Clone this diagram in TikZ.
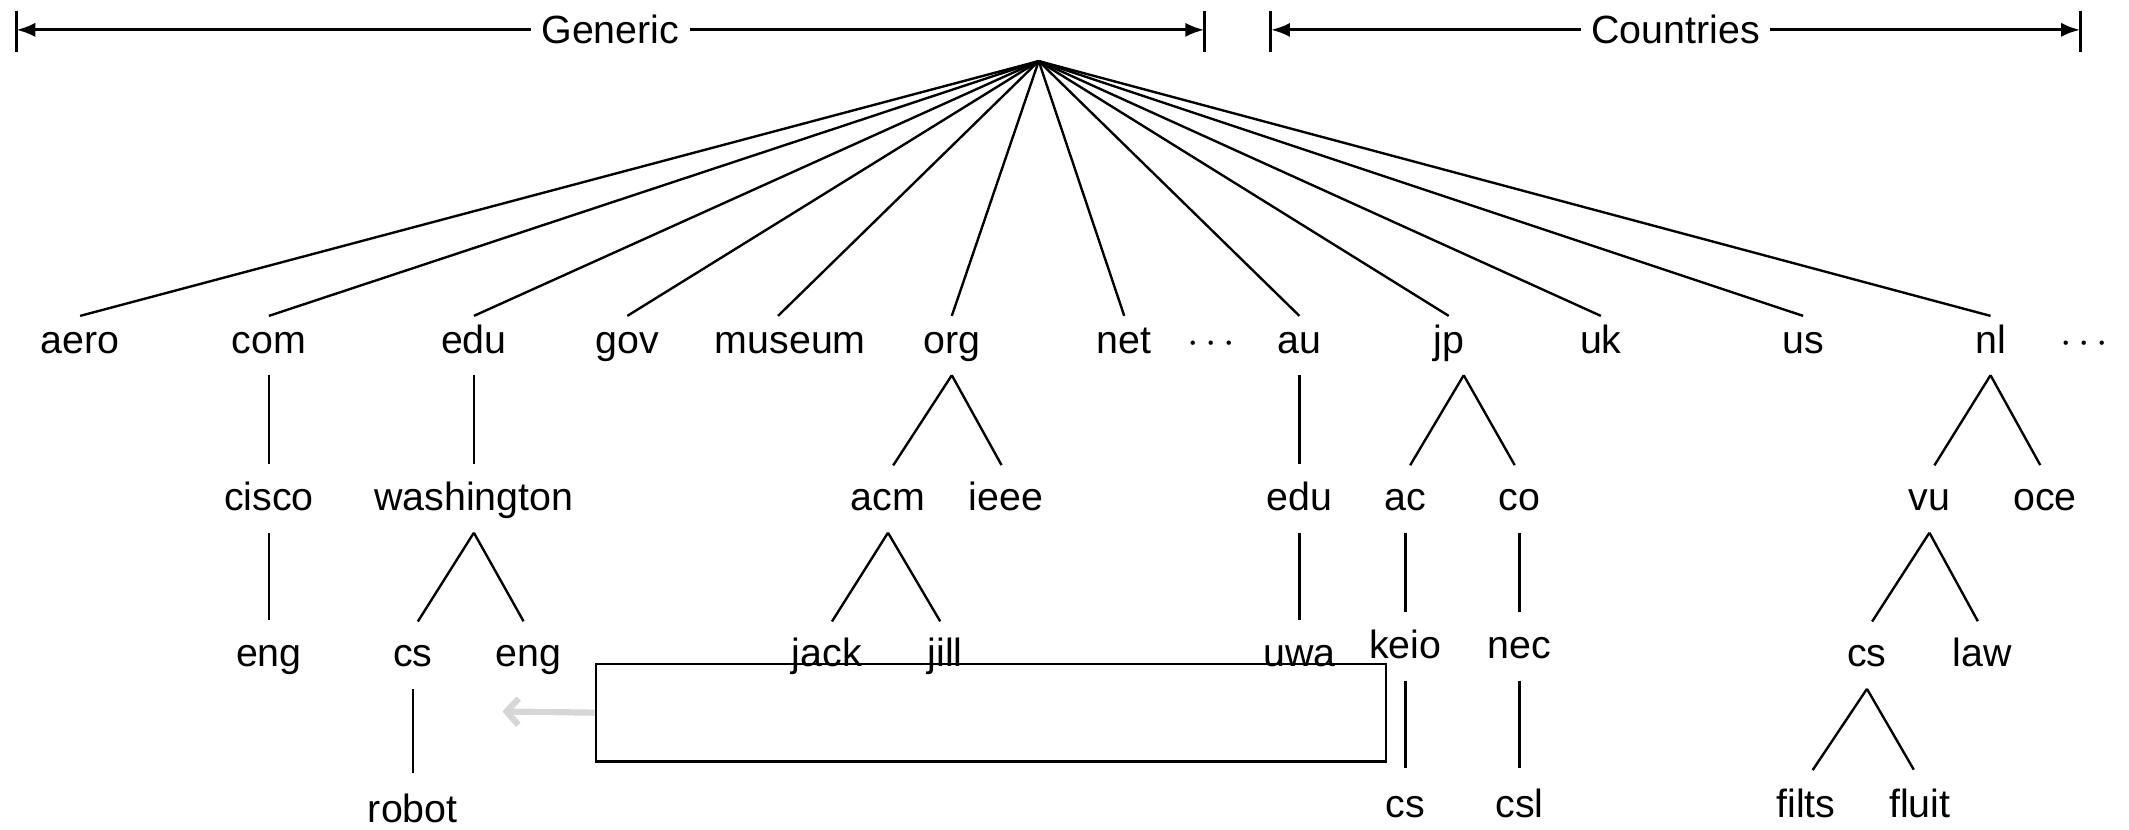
\documentclass[tikz,border=0pt]{standalone}
\usepackage{fontspec}
\setmainfont{Liberation Sans}
\usetikzlibrary{arrows.meta}
\definecolor{silverarrow}{RGB}{214, 214, 214}

\tikzset{
  host/.style     = {font=\fontsize{16.5}{19}\selectfont, inner sep=0pt,
                     text height=0.54cm, text depth=0.32cm, anchor=base},
  spoke/.style    = {line width=1pt},
  branch/.style   = {line width=1pt, shorten >=0.14cm},
  twig/.style     = {line width=1pt, shorten >=0.18cm},
  spanline/.style = {line width=1.3pt,
                     {Latex[length=8pt,width=6pt]}-{Latex[length=8pt,width=6pt]}},
  endtick/.style  = {line width=1.3pt},
  header/.style   = {font=\fontsize{16.5}{19}\selectfont, fill=white,
                     inner xsep=4.5pt, inner ysep=1pt},
}

\begin{document}
\begin{tikzpicture}[x=0.02cm, y=-0.02cm]
            \useasboundingbox (0,0) rectangle (1568,611);
            % Generic / Countries spans
            \coordinate (genL) at (  12, 22);
            \coordinate (genR) at ( 887, 22);
            \coordinate (ctyL) at ( 936, 22);
            \coordinate (ctyR) at (1532, 22);
            \draw[endtick]  (  12,  8) -- (  12, 38);
            \draw[endtick]  ( 887,  8) -- ( 887, 38);
            \draw[endtick]  ( 936,  8) -- ( 936, 38);
            \draw[endtick]  (1532,  8) -- (1532, 38);
            \draw[spanline] (genL) -- node[header] (generic)   {Generic}   (genR);
            \draw[spanline] (ctyL) -- node[header] (countries) {Countries} (ctyR);
            % Top-level domains
            \coordinate (root) at (765, 45);
            \node[host] (aero)   at (  59,260) {aero};
            \node[host] (com)    at ( 198,260) {com};
            \node[host] (edu)    at ( 349,260) {edu};
            \node[host] (gov)    at ( 462,260) {gov};
            \node[host] (museum) at ( 582,260) {museum};
            \node[host] (org)    at ( 701,260) {org};
            \node[host] (net)    at ( 828,260) {net};
            \node[host] (gdots)  at ( 892,260) {$\cdots$};
            \node[host] (au)     at ( 957,260) {au};
            \node[host] (jp)     at (1067,260) {jp};
            \node[host] (uk)     at (1179,260) {uk};
            \node[host] (us)     at (1328,260) {us};
            \node[host] (nl)     at (1466,260) {nl};
            \node[host] (cdots)  at (1535,260) {$\cdots$};
            \foreach \tld in {aero,com,edu,gov,org,net,au,jp,uk,us,nl}
                \draw[spoke] (root) -- (\tld.north);
            \draw[spoke] (root) -- ([xshift=-0.18cm]museum.north);
            % Second level
            \node[host] (cisco)      at ( 198,376) {cisco};
            \node[host] (washington) at ( 349,376) {washington};
            \node[host] (acm)        at ( 654,376) {acm};
            \node[host] (ieee)       at ( 741,376) {ieee};
            \node[host] (auedu)      at ( 957,376) {edu};
            \node[host] (ac)         at (1035,376) {ac};
            \node[host] (co)         at (1119,376) {co};
            \node[host] (vu)         at (1421,376) {vu};
            \node[host] (oce)        at (1506,376) {oce};
            \draw[branch] (com.south)  -- (cisco.north);
            \draw[branch] (edu.south)  -- (washington.north);
            \draw[branch] (org.south)  -- (acm.north);
            \draw[branch] (org.south)  -- (ieee.north);
            \draw[branch] (au.south)   -- (auedu.north);
            \draw[branch] ([xshift=0.22cm]jp.south) -- (ac.north);
            \draw[branch] ([xshift=0.22cm]jp.south) -- (co.north);
            \draw[branch] (nl.south)   -- (vu.north);
            \draw[branch] (nl.south)   -- (oce.north);
            % Third level
            \node[host] (comeng)  at ( 198,491) {eng};
            \node[host] (washcs)  at ( 304,491) {cs};
            \node[host] (washeng) at ( 389,491) {eng};
            \node[host] (jack)    at ( 609,491) {jack};
            \node[host] (jill)    at ( 696,491) {jill};
            \node[host] (uwa)     at ( 957,491) {uwa};
            \node[host] (keio)    at (1035,485) {keio};
            \node[host] (nec)     at (1119,485) {nec};
            \node[host] (vucs)    at (1375,491) {cs};
            \node[host] (law)     at (1460,491) {law};
            \draw[branch] (cisco.south)      -- (comeng.north);
            \draw[branch] (washington.south) -- (washcs.north);
            \draw[branch] (washington.south) -- (washeng.north);
            \draw[branch] (acm.south)        -- (jack.north);
            \draw[branch] (acm.south)        -- (jill.north);
            \draw[branch] (auedu.south)      -- (uwa.north);
            \draw[branch] (ac.south)         -- (keio.north);
            \draw[branch] (co.south)         -- (nec.north);
            \draw[branch] (vu.south)         -- (vucs.north);
            \draw[branch] (vu.south)         -- (law.north);
            % Fourth level
            \node[host] (robot)  at ( 304,606) {robot};
            \node[host] (keiocs) at (1035,602) {cs};
            \node[host] (csl)    at (1119,602) {csl};
            \node[host] (filts)  at (1330,602) {filts};
            \node[host] (fluit)  at (1414,602) {fluit};
            \draw[twig] (washcs.south) -- (robot.north);
            \draw[twig] (keio.south)   -- (keiocs.north);
            \draw[twig] (nec.south)    -- (csl.north);
            \draw[twig] (vucs.south)   -- (filts.north);
            \draw[twig] (vucs.south)   -- (fluit.north);
            % Empty box & pointer
            \node[draw, line width=1pt, minimum width=11.64cm, minimum height=1.44cm,
                  inner sep=0pt, anchor=north west] (box) at (438,488) {};
            \coordinate (pointer) at (370,524);
            \draw[silverarrow, line width=2.6pt, -{Straight Barb[length=5pt,width=11pt]}]
                 (box.west) -- (pointer);
        \end{tikzpicture}
\end{document}
